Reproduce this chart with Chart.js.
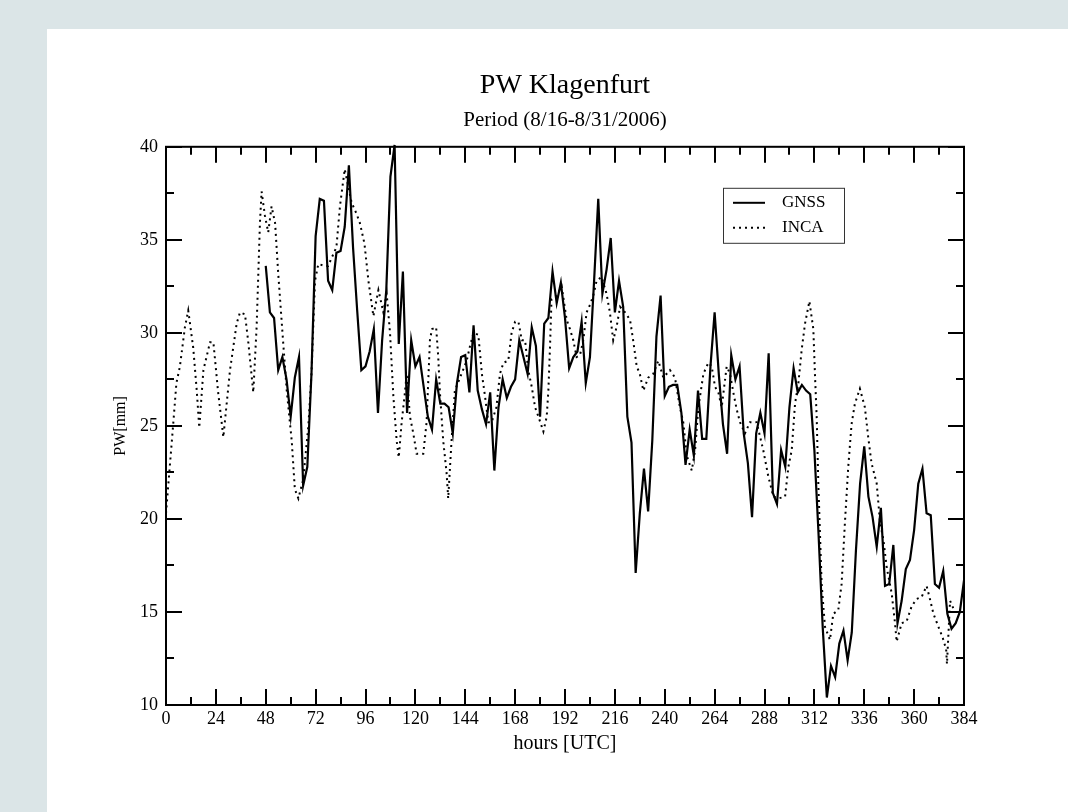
<!DOCTYPE html>
<html lang="en">
<head>
    <meta charset="UTF-8">
    <title>PW Klagenfurt</title>
    <script src="https://cdn.jsdelivr.net/npm/chart.js"></script>
    <style>
        body { margin: 0; background: #dbe5e7; }
        #wrap { position: absolute; left: 47px; top: 29px; width: 1021px; height: 783px; background: #fff; }
    </style>
</head>
<body>
    <div id="wrap"><canvas id="pwChart"></canvas></div>

    <script>
        // GNSS: every 2 hours from hour 48
        const gnssStart = 48;
        const gnssStep = 2;
        const gnssPW = [
            33.6, 31.1, 30.8, 28.0, 28.7, 27.5, 25.5, 27.6, 28.7, 21.8,
            22.8, 27.8, 35.2, 37.2, 37.1, 32.8, 32.3, 34.3, 34.4, 35.7,
            39.0, 34.6, 31.2, 28.0, 28.2, 29.0, 30.2, 25.7, 29.6, 32.3,
            38.4, 40.1, 29.4, 33.3, 25.7, 29.6, 28.2, 28.7, 27.1, 25.5,
            24.8, 27.5, 26.2, 26.2, 26.0, 24.6, 27.3, 28.7, 28.8, 26.8,
            30.4, 26.9, 25.9, 25.1, 26.8, 22.6, 26.0, 27.5, 26.5, 27.1,
            27.5, 29.6, 28.7, 27.8, 30.3, 29.3, 25.5, 30.5, 30.8, 33.3,
            31.6, 32.7, 30.8, 28.1, 28.7, 29.0, 30.6, 27.3, 28.7, 32.8,
            37.2, 32.1, 33.4, 35.1, 31.1, 32.8, 31.4, 25.5, 24.1, 17.1,
            20.3, 22.7, 20.4, 24.2, 29.8, 32.0, 26.6, 27.1, 27.2, 27.2,
            25.7, 22.9, 24.8, 23.4, 26.9, 24.3, 24.3, 28.2, 31.1, 27.8,
            25.1, 23.5, 28.8, 27.5, 28.2, 24.6, 23.0, 20.1, 24.6, 25.7,
            24.6, 28.9, 21.4, 20.8, 23.7, 22.8, 26.0, 28.1, 26.8, 27.2,
            26.9, 26.7, 23.7, 19.2, 14.2, 10.4, 12.1, 11.5, 13.3, 14.0,
            12.4, 13.9, 18.3, 21.9, 23.9, 21.2, 20.1, 18.5, 20.6, 16.4,
            16.5, 18.6, 14.4, 15.6, 17.3, 17.8, 19.4, 21.9, 22.7, 20.3,
            20.2, 16.5, 16.3, 17.2, 14.9, 14.1, 14.4, 15.0, 16.7
        ];

        // INCA: hours and values
        const incaHours = [
            0, 3.4, 5, 6.7, 9.1, 10.7, 13.1, 14.8, 16, 18, 21.2, 22.8, 25, 27.6, 30.8, 34, 35.6, 38, 39.6, 42,
            43.6, 45.2, 46, 47.6, 49.2, 50.8, 52.5, 54, 56.5, 58.1, 60.5, 62, 63.7, 66, 68.5, 70, 71.7, 73.3, 76.5, 78,
            82, 83.7, 86, 89.3, 91.7, 93.3, 95.5, 97.4, 99.8, 102.2, 104.6, 106.2, 107.8, 109.4, 111, 112, 113.4, 114.8, 115.8, 117.4,
            119, 120.6, 123.8, 125.4, 127, 128, 130, 131, 131.8, 133.4, 135, 135.8, 137.4, 139, 141.5, 144.7, 146.3, 148, 150.3, 152,
            153.5, 155.1, 156.7, 159, 160.7, 162.4, 164.7, 166.3, 168, 169.6, 171.2, 172.8, 174.3, 176, 177.6, 179.2, 181.6, 183.2, 184, 184.8,
            185.5, 188, 190.4, 192.8, 194.4, 196, 197.6, 199.2, 200.8, 202.4, 204, 205.6, 207.2, 209.6, 212, 213.6, 215.2, 216.8, 218.5, 220.9,
            223.3, 224.8, 226.5, 228, 229.7, 232.1, 234.5, 236.9, 239.3, 242.5, 244.9, 247.3, 248.9, 250.6, 253, 254.6, 256.2, 258.6, 261, 262.6,
            264.2, 265.8, 267.4, 269.8, 271.4, 273, 274.6, 276.2, 278.6, 281, 284.2, 287.4, 289.8, 292.3, 294.7, 297.9, 299.5, 301.1, 302.7, 304.3,
            305.9, 307.5, 309.6, 311.5, 312.3, 313.1, 313.9, 314.7, 315.5, 317.1, 319.5, 321.1, 323.5, 325.1, 326.7, 328.3, 329.9, 331.5, 333.9, 336.3,
            337.9, 339.5, 342, 343.6, 345.2, 346.8, 349.2, 350.8, 351.6, 354, 356.4, 358.8, 361.2, 363.6, 366, 367.6, 369.3, 371.7, 373.8, 375.4,
            375.8, 377.3, 379.6, 384
        ];
        const incaPW = [
            20.3, 25.0, 27.3, 28.2, 30.3, 31.2, 29.2, 26.9, 24.9, 28.0, 29.5, 29.5, 26.9, 24.4, 28.0, 30.5, 31.1, 31.0, 29.5, 26.8,
            30.3, 35.9, 37.6, 36.3, 35.4, 36.8, 35.9, 33.2, 29.3, 26.9, 24.2, 21.6, 21.1, 22.1, 25.0, 27.8, 32.8, 33.7, 33.6, 33.6,
            34.6, 36.8, 38.8, 37.0, 36.4, 35.9, 34.8, 32.8, 30.9, 32.3, 31.1, 32.1, 30.0, 26.6, 24.2, 23.3, 25.2, 26.6, 27.8, 25.5,
            24.6, 23.5, 23.5, 25.2, 29.6, 30.2, 30.3, 28.7, 26.8, 24.2, 22.5, 21.1, 24.2, 26.9, 27.6, 28.5, 29.3, 30.0, 29.9, 27.8,
            26.6, 25.2, 25.2, 26.0, 27.8, 28.4, 28.5, 30.0, 30.6, 30.6, 29.6, 29.6, 28.0, 27.1, 26.0, 25.5, 24.7, 25.5, 26.9, 29.3,
            31.8, 32.0, 32.5, 30.7, 30.2, 29.6, 28.7, 28.8, 29.6, 31.1, 31.5, 32.0, 32.8, 33.0, 32.1, 31.1, 29.6, 30.3, 31.4, 31.1,
            30.7, 29.6, 28.2, 27.8, 26.9, 27.6, 27.8, 28.5, 27.6, 28.0, 27.6, 26.0, 25.2, 23.4, 22.6, 23.7, 26.0, 27.8, 28.4, 28.2,
            27.1, 26.8, 26.0, 28.2, 27.8, 26.8, 25.9, 25.2, 24.6, 25.2, 25.2, 23.7, 22.3, 21.2, 21.1, 21.2, 22.8, 23.7, 26.2, 27.3,
            29.1, 30.5, 31.7, 30.2, 27.7, 25.5, 21.9, 19.2, 16.5, 14.2, 13.5, 14.9, 15.1, 16.5, 19.8, 22.8, 25.1, 26.2, 27.0, 26.0,
            24.4, 23.0, 21.9, 19.8, 18.9, 17.4, 16.0, 14.4, 13.4, 14.4, 14.5, 15.3, 15.7, 15.8, 16.4, 15.7, 14.9, 14.2, 13.6, 13.0,
            12.2, 15.6, 15.0, 15.0
        ];

        const serif = "'Liberation Serif', 'DejaVu Serif', serif";

        const gnssPoints = gnssPW.map((v, i) => ({ x: gnssStart + i * gnssStep, y: v }));
        const incaPoints = incaPW.map((v, i) => ({ x: incaHours[i], y: v }));

        // box, inward ticks on all sides, and the legend inside the plot
        const frame = {
            id: 'frame',
            afterDraw(chart) {
                const { ctx, chartArea: a, scales: { x, y } } = chart;
                ctx.save();
                ctx.strokeStyle = '#000';
                ctx.lineWidth = 2;
                ctx.strokeRect(a.left, a.top, a.right - a.left, a.bottom - a.top);

                ctx.beginPath();
                for (let h = 0; h <= 384; h += 12) {
                    const px = Math.round(x.getPixelForValue(h));
                    const len = h % 24 === 0 ? 16 : 8;
                    ctx.moveTo(px, a.bottom); ctx.lineTo(px, a.bottom - len);
                    ctx.moveTo(px, a.top); ctx.lineTo(px, a.top + len);
                }
                for (let v = 10; v <= 40; v += 2.5) {
                    const py = Math.round(y.getPixelForValue(v));
                    const len = v % 5 === 0 ? 16 : 8;
                    ctx.moveTo(a.left, py); ctx.lineTo(a.left + len, py);
                    ctx.moveTo(a.right, py); ctx.lineTo(a.right - len, py);
                }
                ctx.stroke();

                // legend
                const lx = a.left + 557, ly = a.top + 41;
                ctx.lineWidth = 1;
                ctx.strokeStyle = '#333';
                ctx.strokeRect(lx + 0.5, ly + 0.5, 121, 55);
                ctx.font = '17px ' + serif;
                ctx.fillStyle = '#000';
                ctx.textBaseline = 'middle';
                chart.data.datasets.forEach((ds, i) => {
                    const yy = ly + 15 + i * 25;
                    ctx.beginPath();
                    ctx.strokeStyle = '#000';
                    ctx.lineWidth = 2;
                    ctx.setLineDash(ds.borderDash || []);
                    ctx.moveTo(lx + 10, yy);
                    ctx.lineTo(lx + 42, yy);
                    ctx.stroke();
                    ctx.setLineDash([]);
                    ctx.fillText(ds.label, lx + 59, yy);
                });
                ctx.restore();
            }
        };

        const ctx = document.getElementById('pwChart').getContext('2d');
        new Chart(ctx, {
            type: 'line',
            data: {
                datasets: [{
                    label: 'GNSS',
                    data: gnssPoints,
                    borderColor: '#000',
                    borderWidth: 2.2,
                    pointRadius: 0,
                    tension: 0,
                    clip: 6
                }, {
                    label: 'INCA',
                    data: incaPoints,
                    borderColor: '#000',
                    borderWidth: 2,
                    borderDash: [2, 4],
                    pointRadius: 0,
                    tension: 0
                }]
            },
            options: {
                responsive: true,
                maintainAspectRatio: false,
                animation: false,
                layout: { padding: { left: 20, right: 104, top: 0, bottom: 47 } },
                plugins: {
                    legend: { display: false },
                    tooltip: { enabled: false },
                    title: {
                        display: true,
                        fullSize: false,
                        text: 'PW Klagenfurt',
                        color: '#000',
                        font: { family: serif, size: 28, weight: 'normal' },
                        padding: { top: 40, bottom: 5 }
                    },
                    subtitle: {
                        display: true,
                        fullSize: false,
                        text: 'Period (8/16-8/31/2006)',
                        color: '#000',
                        font: { family: serif, size: 21 },
                        padding: { top: 0, bottom: 14 }
                    }
                },
                scales: {
                    x: {
                        type: 'linear',
                        min: 0,
                        max: 384,
                        grid: { display: false, drawTicks: false },
                        border: { display: false },
                        ticks: { stepSize: 24, color: '#000', padding: 3, font: { family: serif, size: 18 } },
                        title: {
                            display: true,
                            text: 'hours [UTC]',
                            color: '#000',
                            font: { family: serif, size: 20 },
                            padding: { top: 0, bottom: 9 }
                        },
                        afterFit(scale) { scale.height = 60; }
                    },
                    y: {
                        min: 10,
                        max: 40,
                        grid: { display: false, drawTicks: false },
                        border: { display: false },
                        ticks: { stepSize: 5, color: '#000', padding: 8, font: { family: serif, size: 18 } },
                        title: {
                            display: true,
                            text: 'PW[mm]',
                            color: '#000',
                            font: { family: serif, size: 16 },
                            padding: { top: 44, bottom: 0 }
                        },
                        afterFit(scale) { scale.width = 99; }
                    }
                }
            },
            plugins: [frame]
        });
    </script>
</body>
</html>
